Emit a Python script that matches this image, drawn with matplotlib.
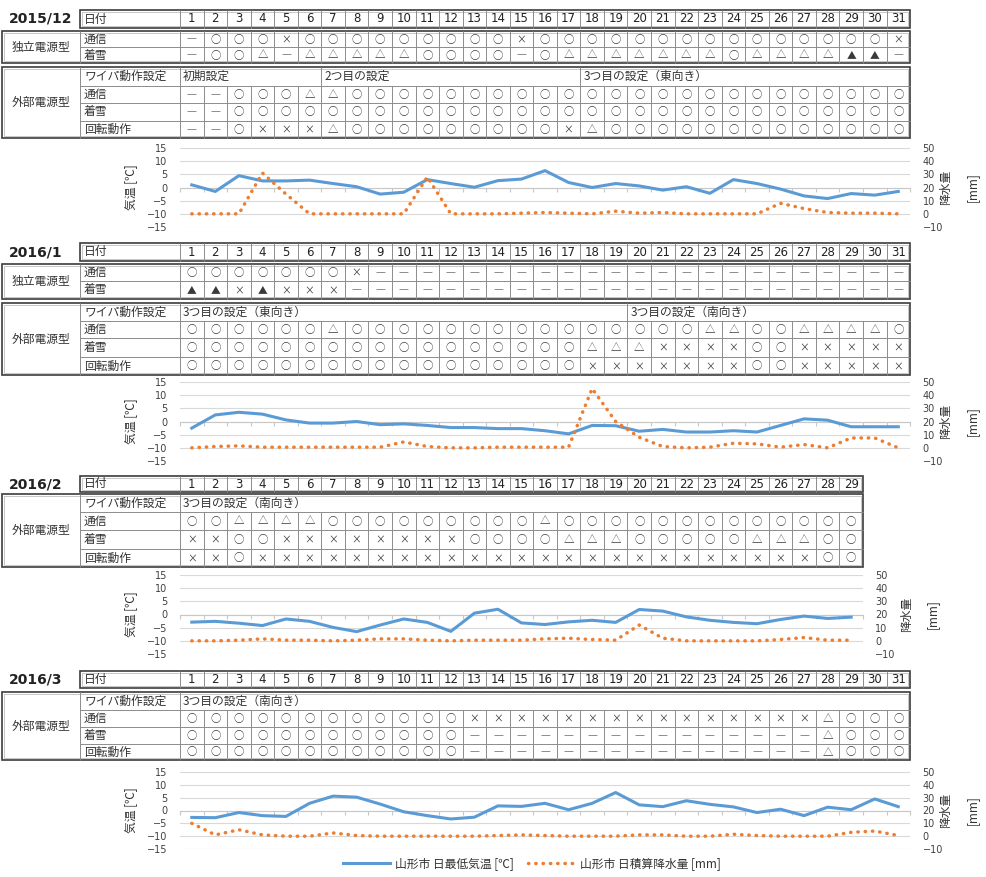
import numpy as np
import matplotlib.pyplot as plt
from matplotlib.lines import Line2D
from matplotlib.patches import Rectangle

plt.rcParams['font.family'] = ['Noto Sans CJK JP', 'DejaVu Sans']

W, H = 986, 877
X0, X1, X2, CW = 2, 80, 180, 23.55      # table columns (pixels)
BLUE, ORANGE = '#5b9bd5', '#ed7d31'
SYM = {'o': '○', 'x': '×', 't': '△', 'b': '▲', '-': '—'}
SYM_SIZE = {'o': 7.5, 'x': 7, 't': 7.5, 'b': 7, '-': 8}

# ---------------- data ----------------
titles = ['2015/12', '2016/1', '2016/2', '2016/3']
ndays = [31, 31, 29, 31]
ind_labels = ['通信', '着雪']
ext_labels = ['ワイパ動作設定', '通信', '着雪', '回転動作']
ind_group = '独立電源型'
ext_group = '外部電源型'

# o=○ x=× t=△ b=▲ -=—
dec_ind_comm = "- o o o x o o o o o o o o o x o o o o o o o o o o o o o o o x".split()
dec_ind_snow = "- o o t - t t t t t o o o o - o t t t t t t t o t t t t b b -".split()
dec_wiper = [(1, '初期設定'), (7, '2つ目の設定'), (18, '3つ目の設定（東向き）')]
dec_ext_comm = "- - o o o t t o o o o o o o o o o o o o o o o o o o o o o o o".split()
dec_ext_snow = "- - o o o o o o o o o o o o o o o o o o o o o o o o o o o o o".split()
dec_ext_rot = "- - o x x x t o o o o o o o o o x t o o o o o o o o o o o o o".split()

jan_ind_comm = "o o o o o o o x - - - - - - - - - - - - - - - - - - - - - - -".split()
jan_ind_snow = "b b x b x x x - - - - - - - - - - - - - - - - - - - - - - - -".split()
jan_wiper = [(1, '3つ目の設定（東向き）'), (20, '3つ目の設定（南向き）')]
jan_ext_comm = "o o o o o o t o o o o o o o o o o o o o o o t t o o t t t t o".split()
jan_ext_snow = "o o o o o o o o o o o o o o o o o t t t x x x x o o x x x x x".split()
jan_ext_rot = "o o o o o o o o o o o o o o o o o x x x x x x x o o x x x x x".split()

feb_wiper = [(1, '3つ目の設定（南向き）')]
feb_ext_comm = "o o t t t t o o o o o o o o o t o o o o o o o o o o o o o".split()
feb_ext_snow = "x x o o x x x x x x x x o o o o t t t o o o o o t t t o o".split()
feb_ext_rot = "x x o x x x x x x x x x x x x x x x x x x x x x x x x o o".split()

mar_wiper = [(1, '3つ目の設定（南向き）')]
mar_ext_comm = "o o o o o o o o o o o o x x x x x x x x x x x x x x x t o o o".split()
mar_ext_snow = "o o o o o o o o o o o o - - - - - - - - - - - - - - - t o o o".split()
mar_ext_rot = "o o o o o o o o o o o o - - - - - - - - - - - - - - - t o o o".split()

# 山形市 日最低気温 [℃]
dec_temp = [1.0, -1.5, 4.5, 2.5, 2.5, 2.8, 1.5, 0.3, -2.5, -1.8, 3.0, 1.5, 0.1, 2.6, 3.2, 6.4,
            1.9, 0.0, 1.5, 0.6, -1.0, 0.3, -2.2, 3.0, 1.5, -0.6, -3.2, -4.2, -2.3, -2.9, -1.5]
jan_temp = [-2.5, 2.5, 3.5, 2.8, 0.6, -0.6, -0.6, 0.0, -1.2, -0.9, -1.5, -2.3, -2.3, -2.7, -2.7, -3.5,
            -4.7, -1.5, -1.6, -3.7, -3.0, -4.0, -4.0, -3.5, -4.0, -1.5, 1.0, 0.5, -2.0, -2.0, -2.0]
feb_temp = [-2.9, -2.6, -3.3, -4.2, -1.7, -2.6, -4.9, -6.5, -4.0, -1.7, -3.0, -6.4, 0.5, 2.0, -3.2,
            -3.8, -2.8, -2.2, -3.0, 1.9, 1.3, -0.9, -2.2, -3.0, -3.5, -1.9, -0.6, -1.5, -1.0]
mar_temp = [-2.7, -2.8, -0.8, -2.0, -2.3, 2.8, 5.6, 5.2, 2.5, -0.5, -2.0, -3.3, -2.6, 1.8, 1.6, 2.8,
            0.3, 2.8, 7.0, 2.2, 1.5, 3.8, 2.4, 1.4, -0.8, 0.5, -2.0, 1.3, 0.3, 4.5, 1.5]

# 山形市 日積算降水量 [mm]
dec_rain = [0, 0, 0, 31, 15, 0, 0, 0, 0, 0, 28, 0, 0, 0, 0.5, 1, 0.5, 0, 2, 0.5, 1, 0, 0, 0, 0,
            8, 4, 1, 0.5, 0.5, 0]
jan_rain = [0, 1, 1.5, 0.5, 0.5, 0.5, 0.5, 0.5, 0.5, 4.5, 1, 0, 0, 0.5, 0.5, 0.5, 0.5, 45, 20, 8,
            1, 0, 0.5, 3.5, 3, 0.5, 2.5, 0, 7.5, 7.5, 0]
feb_rain = [0, 0, 0.5, 1.5, 0.5, 0.5, 0, 0.5, 1.5, 1.5, 0.5, 0, 0.5, 0.5, 0.5, 1.5, 2, 1, 0.5, 12,
            2, 0, 0, 0, 0, 1, 2.5, 0.5, 0.5]
mar_rain = [10, 1, 5, 1, 0, 0, 2.5, 0.5, 0, 0, 0, 0, 0, 0.5, 1, 0.5, 0, 0, 0, 1, 1, 0, 0, 1.5, 0.5,
            0, 0, 0, 3, 4, 0.5]

legend_labels = ['山形市 日最低気温 [℃]', '山形市 日積算降水量 [mm]']

ind_rows = [[dec_ind_comm, dec_ind_snow], [jan_ind_comm, jan_ind_snow], None, None]
ext_rows = [[dec_wiper, dec_ext_comm, dec_ext_snow, dec_ext_rot],
            [jan_wiper, jan_ext_comm, jan_ext_snow, jan_ext_rot],
            [feb_wiper, feb_ext_comm, feb_ext_snow, feb_ext_rot],
            [mar_wiper, mar_ext_comm, mar_ext_snow, mar_ext_rot]]
temps = [dec_temp, jan_temp, feb_temp, mar_temp]
rains = [dec_rain, jan_rain, feb_rain, mar_rain]

# pixel layout of each month
layout = [
    dict(head=(10, 28), ind=[31, 47, 63], ext=[67, 86, 103, 121, 138], chart=(148, 227), rl=(946, 972)),
    dict(head=(243, 261), ind=[264, 281, 299], ext=[303, 321, 338, 357, 375], chart=(382, 461), rl=(946, 972)),
    dict(head=(476, 492), ind=None, ext=[494, 512, 530, 549, 567], chart=(575, 654), rl=(907, 932)),
    dict(head=(671, 688), ind=None, ext=[692, 710, 727, 744, 760], chart=(772, 849), rl=(946, 972)),
]

fig = plt.figure(figsize=(W / 100, H / 100), dpi=100)
ov = fig.add_axes([0, 0, 1, 1])
ov.set_xlim(0, W)
ov.set_ylim(H, 0)
ov.axis('off')

LC = '#8c8c8c'
TXT = '#333333'


def vline(x, y0, y1, lw=0.7, c=LC):
    ov.plot([x, x], [y0, y1], color=c, lw=lw, solid_capstyle='butt')


def hline(x0, x1, y, lw=0.7, c=LC):
    ov.plot([x0, x1], [y, y], color=c, lw=lw, solid_capstyle='butt')


def frame(x0, y0, x1, y1):
    ov.add_patch(Rectangle((x0, y0), x1 - x0, y1 - y0, fill=False, ec='#3c3c3c', lw=1.2))
    ov.add_patch(Rectangle((x0 + 1.8, y0 + 1.8), x1 - x0 - 3.6, y1 - y0 - 3.6,
                           fill=False, ec='#b0b0b0', lw=0.5))


def header(title, y0, y1, n):
    xe = X2 + n * CW
    yc = (y0 + y1) / 2
    frame(X1, y0, xe, y1)
    vline(X2, y0, y1)
    ov.text(X1 + 4, yc, '日付', ha='left', va='center', fontsize=8.5, color=TXT)
    for k in range(n):
        if k:
            vline(X2 + k * CW, y0, y1)
        ov.text(X2 + (k + 0.5) * CW, yc, str(k + 1), ha='center', va='center',
                fontsize=8.5, color='#222222', family='DejaVu Sans')
    ov.text(9, yc, title, ha='left', va='center', fontsize=10, fontweight='bold',
            color='#222222', family='DejaVu Sans')


def block(group, ys, labels, rows, n):
    xe = X2 + n * CW
    frame(X0, ys[0], xe, ys[-1])
    vline(X1, ys[0], ys[-1])
    vline(X2, ys[0], ys[-1])
    for y in ys[1:-1]:
        hline(X1, xe, y)
    ov.text((X0 + X1) / 2, (ys[0] + ys[-1]) / 2, group, ha='center', va='center',
            fontsize=8.5, color=TXT)
    for i, (lab, row) in enumerate(zip(labels, rows)):
        y0, y1 = ys[i], ys[i + 1]
        yc = (y0 + y1) / 2
        ov.text(X1 + 4, yc, lab, ha='left', va='center', fontsize=8.5, color=TXT)
        if isinstance(row[0], tuple):
            for start, txt in row:
                x = X2 + (start - 1) * CW
                if start > 1:
                    vline(x, y0, y1)
                ov.text(x + 3, yc, txt, ha='left', va='center', fontsize=8.5, color=TXT)
        else:
            for k, v in enumerate(row):
                if k:
                    vline(X2 + k * CW, y0, y1)
                ov.text(X2 + (k + 0.5) * CW, yc + 0.5, SYM[v], ha='center', va='center',
                        fontsize=SYM_SIZE[v], color='#777777' if v == '-' else '#3a3a3a')


def chart(n, temp, rain, yt, yb, rl):
    ax = fig.add_axes([X2 / W, 1 - yb / H, n * CW / W, (yb - yt) / H])
    days = np.arange(1, n + 1)
    ax.plot(days, temp, color=BLUE, lw=2.2, solid_joinstyle='round', zorder=3)
    ax.set_xlim(0.5, n + 0.5)
    ax.set_ylim(-15, 15)
    ax.set_yticks(range(-15, 16, 5))
    ax.grid(axis='y', color='#d9d9d9', lw=0.8)
    for s in ['top', 'left', 'right']:
        ax.spines[s].set_visible(False)
    ax.spines['bottom'].set_position(('data', 0))
    ax.spines['bottom'].set_color('#c8c8c8')
    ax.set_xticks(np.arange(0.5, n + 1, 1))
    ax.tick_params(axis='x', length=3, color='#c8c8c8', labelbottom=False)
    ax.tick_params(axis='y', length=0, pad=9, labelsize=7, labelcolor='#404040',
                   labelfontfamily='DejaVu Sans')
    ax.patch.set_alpha(0)

    ax2 = ax.twinx()
    ax2.plot(days, rain, color=ORANGE, lw=2.5, ls=(0, (0.1, 2.0)), dash_capstyle='round')
    ax2.set_ylim(-10, 50)
    ax2.set_yticks(range(-10, 51, 10))
    for s in ax2.spines.values():
        s.set_visible(False)
    ax2.tick_params(axis='y', length=0, pad=9, labelsize=7, labelcolor='#404040',
                    labelfontfamily='DejaVu Sans')
    ax2.tick_params(axis='x', bottom=False, labelbottom=False)

    yc = (yt + yb) / 2
    ov.text(131, yc, '気温 [℃]', rotation=90, ha='center', va='center', fontsize=8.5, color=TXT)
    ov.text(rl[0], yc, '降水量', rotation=90, ha='center', va='center', fontsize=8.5, color=TXT)
    ov.text(rl[1], yc, '[mm]', rotation=90, ha='center', va='center', fontsize=8.5, color=TXT)


for i in range(4):
    L = layout[i]
    n = ndays[i]
    header(titles[i], L['head'][0], L['head'][1], n)
    if ind_rows[i] is not None:
        block(ind_group, L['ind'], ind_labels, ind_rows[i], n)
    block(ext_group, L['ext'], ext_labels, ext_rows[i], n)
    chart(n, temps[i], rains[i], L['chart'][0], L['chart'][1], L['rl'])

handles = [Line2D([], [], color=BLUE, lw=2.2),
           Line2D([], [], color=ORANGE, lw=2.5, ls=(0, (0.1, 2.0)), dash_capstyle='round')]
fig.legend(handles, legend_labels, loc='center', bbox_to_anchor=(532 / W, 1 - 864 / H),
           ncol=2, frameon=False, fontsize=8.5, handlelength=4, columnspacing=1.2,
           handletextpad=0.4, labelcolor=TXT)

fig.savefig('out.png', dpi=100)
